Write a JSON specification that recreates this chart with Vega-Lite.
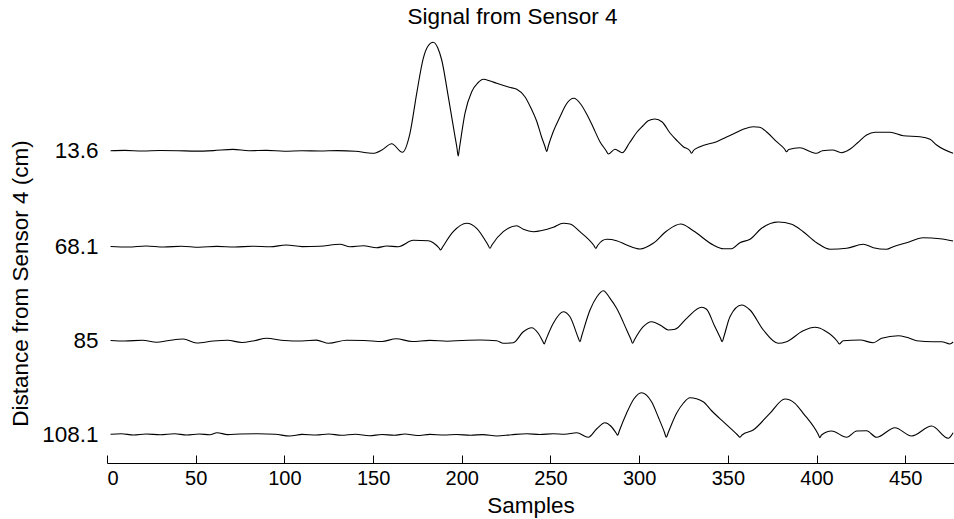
{
  "$schema": "https://vega.github.io/schema/vega-lite/v6.json",
  "autosize": {"type": "none"},
  "padding": {"left": 107, "top": 35, "right": 0, "bottom": 56},
  "width": 847,
  "height": 428,
  "background": "white",
  "config": {
    "view": {"stroke": null},
    "font": "Liberation Sans"
  },
  "title": {
    "text": "Signal from Sensor 4",
    "font": "Liberation Sans",
    "fontSize": 22.5,
    "fontWeight": "normal",
    "color": "black",
    "anchor": "middle",
    "dx": -18,
    "offset": 7
  },
  "data": {
    "values": [
      {"s":2,"v":284.3,"d":"13.6"},{"s":10,"v":284.6,"d":"13.6"},{"s":20,"v":284,"d":"13.6"},{"s":30,"v":284.5,"d":"13.6"},{"s":40,"v":284.3,"d":"13.6"},{"s":50,"v":283.9,"d":"13.6"},{"s":60,"v":284.4,"d":"13.6"},{"s":71,"v":285.6,"d":"13.6"},{"s":80,"v":284.3,"d":"13.6"},{"s":90,"v":284.6,"d":"13.6"},{"s":100,"v":283.8,"d":"13.6"},{"s":110,"v":284.3,"d":"13.6"},{"s":120,"v":284,"d":"13.6"},{"s":130,"v":284.4,"d":"13.6"},{"s":140,"v":283.8,"d":"13.6"},{"s":150,"v":281.7,"d":"13.6"},{"s":155,"v":285,"d":"13.6"},{"s":160.5,"v":291.3,"d":"13.6"},{"s":166.5,"v":282.7,"d":"13.6"},{"s":170.8,"v":301.7,"d":"13.6"},{"s":174.6,"v":341.7,"d":"13.6"},{"s":178.3,"v":376.7,"d":"13.6"},{"s":181,"v":389,"d":"13.6"},{"s":183.9,"v":392.7,"d":"13.6"},{"s":186.5,"v":387,"d":"13.6"},{"s":188.7,"v":375,"d":"13.6"},{"s":192.4,"v":338.3,"d":"13.6"},{"s":196.2,"v":298.3,"d":"13.6"},{"s":197.3,"v":287,"d":"13.6"},{"s":198,"v":279,"d":"13.6"},{"s":198.7,"v":287,"d":"13.6"},{"s":201.8,"v":321.7,"d":"13.6"},{"s":205.6,"v":343.3,"d":"13.6"},{"s":209,"v":352,"d":"13.6"},{"s":212.1,"v":355.7,"d":"13.6"},{"s":216,"v":354,"d":"13.6"},{"s":219.7,"v":351.7,"d":"13.6"},{"s":226.8,"v":347.7,"d":"13.6"},{"s":231,"v":345.7,"d":"13.6"},{"s":235.6,"v":338.3,"d":"13.6"},{"s":239,"v":327,"d":"13.6"},{"s":242.2,"v":314,"d":"13.6"},{"s":245,"v":298,"d":"13.6"},{"s":247,"v":288,"d":"13.6"},{"s":247.9,"v":283.3,"d":"13.6"},{"s":248.8,"v":289,"d":"13.6"},{"s":251.5,"v":303,"d":"13.6"},{"s":255.4,"v":318.3,"d":"13.6"},{"s":259,"v":331,"d":"13.6"},{"s":263.2,"v":336.7,"d":"13.6"},{"s":267,"v":331,"d":"13.6"},{"s":270.4,"v":321,"d":"13.6"},{"s":274,"v":308,"d":"13.6"},{"s":277.9,"v":293.3,"d":"13.6"},{"s":281.5,"v":284,"d":"13.6"},{"s":282.6,"v":281,"d":"13.6"},{"s":286.4,"v":285.7,"d":"13.6"},{"s":290.5,"v":282.3,"d":"13.6"},{"s":294.5,"v":292,"d":"13.6"},{"s":298.6,"v":302.5,"d":"13.6"},{"s":302,"v":309,"d":"13.6"},{"s":305.1,"v":314.3,"d":"13.6"},{"s":308.9,"v":316,"d":"13.6"},{"s":313,"v":313,"d":"13.6"},{"s":317.4,"v":302,"d":"13.6"},{"s":321,"v":295,"d":"13.6"},{"s":324.9,"v":288.3,"d":"13.6"},{"s":328.5,"v":284.5,"d":"13.6"},{"s":329.6,"v":281.7,"d":"13.6"},{"s":330.6,"v":284.5,"d":"13.6"},{"s":334.3,"v":288.3,"d":"13.6"},{"s":343.7,"v":293.3,"d":"13.6"},{"s":349,"v":297.7,"d":"13.6"},{"s":353,"v":301,"d":"13.6"},{"s":359,"v":306,"d":"13.6"},{"s":364.3,"v":308.3,"d":"13.6"},{"s":368,"v":307.7,"d":"13.6"},{"s":371.9,"v":303,"d":"13.6"},{"s":377.5,"v":293.3,"d":"13.6"},{"s":382,"v":286,"d":"13.6"},{"s":383.1,"v":283.3,"d":"13.6"},{"s":384.3,"v":285.5,"d":"13.6"},{"s":390.6,"v":287.3,"d":"13.6"},{"s":397,"v":283,"d":"13.6"},{"s":400,"v":281.7,"d":"13.6"},{"s":403.3,"v":284.3,"d":"13.6"},{"s":409,"v":285,"d":"13.6"},{"s":414,"v":282.3,"d":"13.6"},{"s":418.8,"v":285.7,"d":"13.6"},{"s":423,"v":292,"d":"13.6"},{"s":428.2,"v":300,"d":"13.6"},{"s":433,"v":302.7,"d":"13.6"},{"s":441.4,"v":302.7,"d":"13.6"},{"s":448.9,"v":299.3,"d":"13.6"},{"s":458.3,"v":298.3,"d":"13.6"},{"s":464,"v":295.7,"d":"13.6"},{"s":467.7,"v":290,"d":"13.6"},{"s":477,"v":281.7,"d":"13.6"},

      {"s":2,"v":188.5,"d":"68.1"},{"s":12,"v":188,"d":"68.1"},{"s":22,"v":189,"d":"68.1"},{"s":32,"v":188,"d":"68.1"},{"s":42,"v":188.8,"d":"68.1"},{"s":52,"v":187.8,"d":"68.1"},{"s":62,"v":188.6,"d":"68.1"},{"s":72,"v":188,"d":"68.1"},{"s":82,"v":188.8,"d":"68.1"},{"s":92,"v":188.2,"d":"68.1"},{"s":101,"v":190,"d":"68.1"},{"s":110,"v":188.4,"d":"68.1"},{"s":120,"v":188.7,"d":"68.1"},{"s":131.3,"v":190.7,"d":"68.1"},{"s":137,"v":188.3,"d":"68.1"},{"s":144.5,"v":189.3,"d":"68.1"},{"s":152,"v":187.3,"d":"68.1"},{"s":157.7,"v":189,"d":"68.1"},{"s":164.2,"v":188.3,"d":"68.1"},{"s":172.7,"v":194.7,"d":"68.1"},{"s":181.1,"v":194.3,"d":"68.1"},{"s":183.9,"v":192.3,"d":"68.1"},{"s":187.2,"v":187,"d":"68.1"},{"s":188.1,"v":185,"d":"68.1"},{"s":189.2,"v":188,"d":"68.1"},{"s":195.2,"v":203.3,"d":"68.1"},{"s":202.8,"v":211.7,"d":"68.1"},{"s":208.4,"v":206.7,"d":"68.1"},{"s":214.8,"v":190,"d":"68.1"},{"s":215.9,"v":186.7,"d":"68.1"},{"s":217,"v":190,"d":"68.1"},{"s":223.4,"v":203.3,"d":"68.1"},{"s":230.9,"v":209.3,"d":"68.1"},{"s":234.7,"v":205.7,"d":"68.1"},{"s":240.3,"v":203.3,"d":"68.1"},{"s":251.6,"v":207.7,"d":"68.1"},{"s":257.2,"v":211.7,"d":"68.1"},{"s":261,"v":211,"d":"68.1"},{"s":266.6,"v":203.3,"d":"68.1"},{"s":274.5,"v":189.5,"d":"68.1"},{"s":275.6,"v":186.7,"d":"68.1"},{"s":276.6,"v":189.5,"d":"68.1"},{"s":281.7,"v":195.7,"d":"68.1"},{"s":287.3,"v":194.3,"d":"68.1"},{"s":293,"v":190,"d":"68.1"},{"s":300.5,"v":186,"d":"68.1"},{"s":307.9,"v":191.7,"d":"68.1"},{"s":315.5,"v":204,"d":"68.1"},{"s":323.4,"v":211,"d":"68.1"},{"s":330.5,"v":204.3,"d":"68.1"},{"s":341.8,"v":190,"d":"68.1"},{"s":347.4,"v":186.3,"d":"68.1"},{"s":352.1,"v":186.3,"d":"68.1"},{"s":356.8,"v":192.3,"d":"68.1"},{"s":362.5,"v":195.7,"d":"68.1"},{"s":369,"v":206.7,"d":"68.1"},{"s":378.4,"v":213,"d":"68.1"},{"s":386,"v":210.7,"d":"68.1"},{"s":392.5,"v":203.3,"d":"68.1"},{"s":400.1,"v":192.3,"d":"68.1"},{"s":407.6,"v":185.7,"d":"68.1"},{"s":417,"v":186.7,"d":"68.1"},{"s":426.3,"v":190.7,"d":"68.1"},{"s":432,"v":187.3,"d":"68.1"},{"s":439.5,"v":185.7,"d":"68.1"},{"s":443.2,"v":188.3,"d":"68.1"},{"s":450.8,"v":192.3,"d":"68.1"},{"s":460.1,"v":197.3,"d":"68.1"},{"s":469.6,"v":196.3,"d":"68.1"},{"s":477,"v":194,"d":"68.1"},

      {"s":2,"v":94.5,"d":"85"},{"s":10,"v":94,"d":"85"},{"s":20,"v":94.7,"d":"85"},{"s":28,"v":92.7,"d":"85"},{"s":35,"v":94.5,"d":"85"},{"s":43,"v":96,"d":"85"},{"s":50.5,"v":92,"d":"85"},{"s":60,"v":94,"d":"85"},{"s":68,"v":94.7,"d":"85"},{"s":76,"v":92.5,"d":"85"},{"s":83,"v":94.3,"d":"85"},{"s":90,"v":96.7,"d":"85"},{"s":100,"v":94.5,"d":"85"},{"s":110,"v":94,"d":"85"},{"s":118,"v":94.9,"d":"85"},{"s":125,"v":91.7,"d":"85"},{"s":135,"v":94.7,"d":"85"},{"s":145,"v":94.5,"d":"85"},{"s":155,"v":93.5,"d":"85"},{"s":163,"v":96.3,"d":"85"},{"s":172,"v":93.5,"d":"85"},{"s":182,"v":94.6,"d":"85"},{"s":192,"v":93.8,"d":"85"},{"s":200,"v":94.5,"d":"85"},{"s":210.3,"v":95,"d":"85"},{"s":219.7,"v":94.3,"d":"85"},{"s":223.4,"v":91.7,"d":"85"},{"s":229,"v":92.3,"d":"85"},{"s":234.7,"v":103.3,"d":"85"},{"s":239.4,"v":107.3,"d":"85"},{"s":243.1,"v":101.7,"d":"85"},{"s":245.6,"v":94,"d":"85"},{"s":246.5,"v":91,"d":"85"},{"s":247.4,"v":95,"d":"85"},{"s":251.6,"v":111.7,"d":"85"},{"s":257.2,"v":123.3,"d":"85"},{"s":261,"v":118.3,"d":"85"},{"s":265.6,"v":97.5,"d":"85"},{"s":266.6,"v":93.3,"d":"85"},{"s":267.6,"v":99,"d":"85"},{"s":272.3,"v":125,"d":"85"},{"s":276.2,"v":138.3,"d":"85"},{"s":279.8,"v":144.3,"d":"85"},{"s":283.6,"v":136.7,"d":"85"},{"s":287.3,"v":126.7,"d":"85"},{"s":293,"v":105,"d":"85"},{"s":295.4,"v":95.5,"d":"85"},{"s":296.3,"v":91.7,"d":"85"},{"s":297.3,"v":95,"d":"85"},{"s":302.3,"v":108.3,"d":"85"},{"s":307,"v":113.3,"d":"85"},{"s":312.7,"v":109,"d":"85"},{"s":316.4,"v":105,"d":"85"},{"s":320.2,"v":105.7,"d":"85"},{"s":326.8,"v":116.7,"d":"85"},{"s":335.2,"v":127.7,"d":"85"},{"s":338,"v":125.7,"d":"85"},{"s":342.4,"v":109.5,"d":"85"},{"s":345.8,"v":97,"d":"85"},{"s":346.8,"v":93.3,"d":"85"},{"s":347.8,"v":98.5,"d":"85"},{"s":351.2,"v":118.3,"d":"85"},{"s":357.8,"v":130,"d":"85"},{"s":362.5,"v":125,"d":"85"},{"s":370,"v":105,"d":"85"},{"s":378.4,"v":91.7,"d":"85"},{"s":383.1,"v":93.3,"d":"85"},{"s":392.5,"v":104.3,"d":"85"},{"s":399.1,"v":107.7,"d":"85"},{"s":404.7,"v":104.3,"d":"85"},{"s":411.8,"v":93.5,"d":"85"},{"s":412.8,"v":91,"d":"85"},{"s":415,"v":94.3,"d":"85"},{"s":424.5,"v":95,"d":"85"},{"s":432,"v":92.3,"d":"85"},{"s":436.7,"v":96.7,"d":"85"},{"s":446.1,"v":99.3,"d":"85"},{"s":450.8,"v":97.7,"d":"85"},{"s":456.4,"v":94.3,"d":"85"},{"s":465.8,"v":93.3,"d":"85"},{"s":470.5,"v":93.3,"d":"85"},{"s":475.2,"v":91,"d":"85"},{"s":477,"v":93,"d":"85"},

      {"s":2,"v":0.7,"d":"108.1"},{"s":8,"v":1.2,"d":"108.1"},{"s":15,"v":0,"d":"108.1"},{"s":22,"v":1,"d":"108.1"},{"s":30,"v":0.3,"d":"108.1"},{"s":38,"v":1.3,"d":"108.1"},{"s":45,"v":0,"d":"108.1"},{"s":52,"v":1,"d":"108.1"},{"s":58,"v":0.2,"d":"108.1"},{"s":62,"v":2.3,"d":"108.1"},{"s":68,"v":0.4,"d":"108.1"},{"s":75,"v":1,"d":"108.1"},{"s":85,"v":1.3,"d":"108.1"},{"s":95,"v":0.7,"d":"108.1"},{"s":103,"v":-1,"d":"108.1"},{"s":110,"v":0.6,"d":"108.1"},{"s":118,"v":0,"d":"108.1"},{"s":125,"v":1,"d":"108.1"},{"s":132,"v":-0.3,"d":"108.1"},{"s":140,"v":0.8,"d":"108.1"},{"s":148,"v":-0.7,"d":"108.1"},{"s":155,"v":0.5,"d":"108.1"},{"s":162,"v":-0.2,"d":"108.1"},{"s":168,"v":1,"d":"108.1"},{"s":175,"v":-0.5,"d":"108.1"},{"s":182,"v":0.6,"d":"108.1"},{"s":190,"v":0,"d":"108.1"},{"s":197,"v":0.5,"d":"108.1"},{"s":205,"v":-0.2,"d":"108.1"},{"s":212,"v":0.4,"d":"108.1"},{"s":219.7,"v":-1,"d":"108.1"},{"s":228,"v":0.3,"d":"108.1"},{"s":236.6,"v":1.3,"d":"108.1"},{"s":244,"v":0.5,"d":"108.1"},{"s":251.6,"v":1.3,"d":"108.1"},{"s":258,"v":0.8,"d":"108.1"},{"s":264.8,"v":2.3,"d":"108.1"},{"s":271.3,"v":-2.3,"d":"108.1"},{"s":276,"v":6,"d":"108.1"},{"s":280.7,"v":12.3,"d":"108.1"},{"s":284,"v":9,"d":"108.1"},{"s":287,"v":2,"d":"108.1"},{"s":287.9,"v":-0.3,"d":"108.1"},{"s":288.8,"v":4,"d":"108.1"},{"s":292.9,"v":21.7,"d":"108.1"},{"s":297,"v":36,"d":"108.1"},{"s":301.2,"v":42.3,"d":"108.1"},{"s":307,"v":33.3,"d":"108.1"},{"s":311,"v":17,"d":"108.1"},{"s":314.3,"v":2.5,"d":"108.1"},{"s":315.3,"v":-2.3,"d":"108.1"},{"s":316.3,"v":2,"d":"108.1"},{"s":321.1,"v":21.7,"d":"108.1"},{"s":325,"v":32,"d":"108.1"},{"s":328.6,"v":37.3,"d":"108.1"},{"s":336.1,"v":33.3,"d":"108.1"},{"s":341,"v":24,"d":"108.1"},{"s":347.4,"v":13.3,"d":"108.1"},{"s":355.5,"v":0,"d":"108.1"},{"s":356.8,"v":-2.3,"d":"108.1"},{"s":358,"v":0,"d":"108.1"},{"s":364.3,"v":5,"d":"108.1"},{"s":373.7,"v":21.7,"d":"108.1"},{"s":382.2,"v":36,"d":"108.1"},{"s":387.8,"v":31.7,"d":"108.1"},{"s":392.5,"v":21.7,"d":"108.1"},{"s":401,"v":0.5,"d":"108.1"},{"s":401.9,"v":-2.7,"d":"108.1"},{"s":402.8,"v":0,"d":"108.1"},{"s":408.5,"v":4,"d":"108.1"},{"s":417,"v":-2.3,"d":"108.1"},{"s":422.6,"v":4,"d":"108.1"},{"s":428.2,"v":4.3,"d":"108.1"},{"s":433.8,"v":-2.3,"d":"108.1"},{"s":444.2,"v":7.3,"d":"108.1"},{"s":453.6,"v":-1,"d":"108.1"},{"s":464.9,"v":9,"d":"108.1"},{"s":474.2,"v":-3.3,"d":"108.1"},{"s":477,"v":2.3,"d":"108.1"}
    ]
  },
  "mark": {"type": "line", "color": "black", "strokeWidth": 1.1, "interpolate": "monotone", "clip": true},
  "encoding": {
    "x": {
      "field": "s",
      "type": "quantitative",
      "scale": {"domain": [0, 477.5], "nice": false, "zero": false},
      "axis": {
        "title": "Samples",
        "values": [0, 50, 100, 150, 200, 250, 300, 350, 400, 450],
        "grid": false,
        "domainColor": "black",
        "domainWidth": 1,
        "tickColor": "black",
        "tickWidth": 1,
        "tickSize": -8,
        "labelPadding": 13,
        "labelFont": "Liberation Sans",
        "labelFontSize": 20,
        "labelColor": "black",
        "titleFont": "Liberation Sans",
        "titleFontSize": 22.5,
        "titleFontWeight": "normal",
        "titleColor": "black",
        "titlePadding": 6
      }
    },
    "y": {
      "field": "v",
      "type": "quantitative",
      "scale": {"domain": [-28, 400], "nice": false, "zero": false},
      "axis": {
        "title": "Distance from Sensor 4 (cm)",
        "values": [0.7, 94.3, 188.3, 284.3],
        "labelExpr": "datum.value > 250 ? '13.6' : datum.value > 150 ? '68.1' : datum.value > 50 ? '85' : '108.1'",
        "grid": false,
        "domain": false,
        "ticks": false,
        "labelPadding": 9,
        "labelFont": "Liberation Sans",
        "labelFontSize": 22.5,
        "labelColor": "black",
        "titleFont": "Liberation Sans",
        "titleFontSize": 22.5,
        "titleFontWeight": "normal",
        "titleColor": "black",
        "titlePadding": 9,
        "titleY": 248
      }
    },
    "detail": {"field": "d", "type": "nominal"}
  }
}
